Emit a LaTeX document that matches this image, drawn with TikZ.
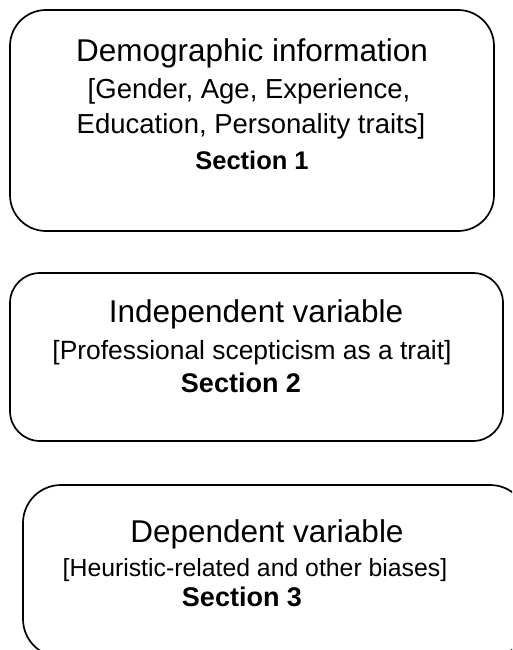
\documentclass[tikz,border=0pt]{standalone}
\usepackage{fontspec}
\setmainfont{Liberation Sans}
\begin{document}
\begin{tikzpicture}[x=1pt,y=-1pt,
  box/.style={draw=black,line width=1.7pt,rounded corners=#1},
  ttl/.style={anchor=base,inner sep=0pt,font=\fontsize{31.5}{36}\selectfont},
  sub/.style={anchor=base,inner sep=0pt,font=\fontsize{#1}{30}\selectfont},
  sec/.style={anchor=base,inner sep=0pt,font=\fontsize{#1}{30}\selectfont\bfseries}]
\useasboundingbox (0,0) rectangle (512,650);
\clip (0,0) rectangle (512,650);
% boxes
\draw[box=36] (10,10) rectangle (494,231);
\draw[box=30] (10,273) rectangle (503,441);
\draw[box=38] (23,485) rectangle (528,657);
% box 1
\node[ttl] (t1a) at (252,62) {Demographic information};
\node[sub=27.5] (t1b) at (249,99) {[Gender, Age, Experience,};
\node[sub=27.5] (t1c) at (251,134) {Education, Personality traits]};
\node[sec=25.5] (t1d) at (252,169) {Section 1};
% box 2
\node[ttl] (t2a) at (256,322) {Independent variable};
\node[sub=26.4] (t2b) at (252,359) {[Professional scepticism as a trait]};
\node[sec=27] (t2c) at (241,392) {Section 2};
% box 3
\node[ttl] (t3a) at (267,542) {Dependent variable};
\node[sub=24.8] (t3b) at (255,576) {[Heuristic-related and other biases]};
\node[sec=27] (t3c) at (242,606) {Section 3};
\end{tikzpicture}
\end{document}
